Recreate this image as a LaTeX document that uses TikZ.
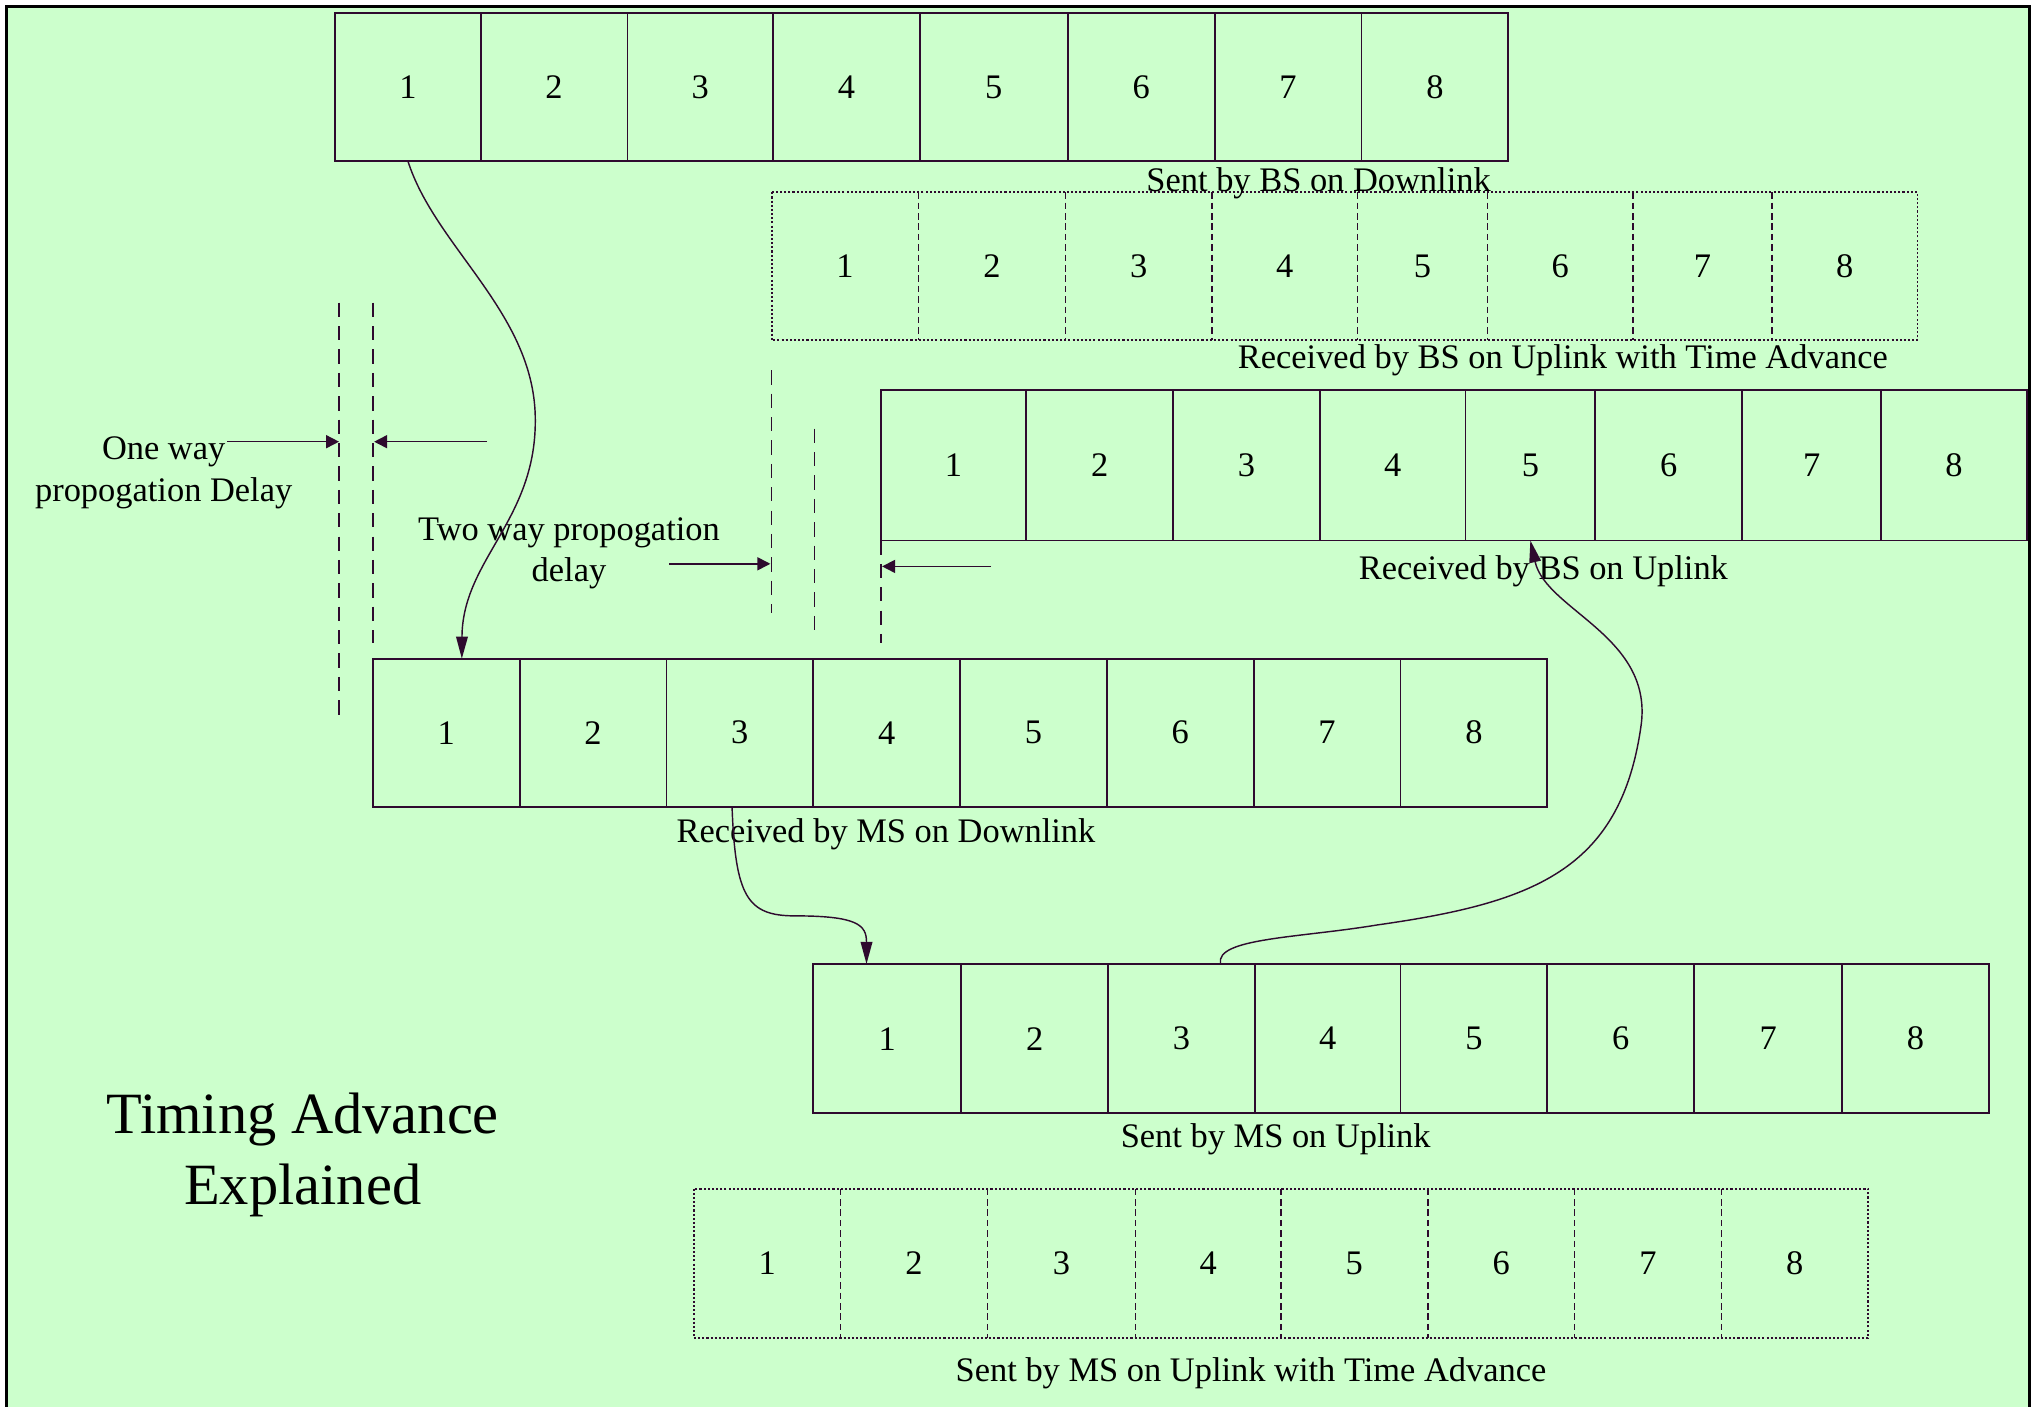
\documentclass[tikz,border=0pt]{standalone}
\usepackage{fontspec}
\setmainfont{Liberation Serif}
\usetikzlibrary{arrows.meta,calc}
\definecolor{bgreen}{HTML}{CCFFCC}
\definecolor{ink}{HTML}{2E0A2E}
\newcommand\slotrow[5]{%
  \foreach \l/\r [count=\i] in {#5} {%
    \pgfmathsetmacro\w{\r-\l}%
    \pgfmathsetmacro\h{#3-#2}%
    \node[#4, minimum width=\w pt, minimum height=\h pt] (#1\i) at ({(\l+\r)/2},{(#2+#3)/2}) {\i};
  }}
\newcommand\dottedframe[1]{%
  \draw[dotframe] (#11.north west) rectangle (#18.south east);
  \foreach \j in {1,...,7} {\draw[dotdiv] (#1\j.north east) -- (#1\j.south east);}%
}
\tikzset{
  cell/.style={draw=ink, line width=1.4pt, inner sep=0pt, outer sep=0pt, font=\fontsize{26.5}{30}\selectfont},
  dcell/.style={inner sep=0pt, outer sep=0pt, font=\fontsize{26.5}{30}\selectfont},
  dotframe/.style={draw=ink, line width=1.4pt, dash pattern=on 1.6pt off 1.6pt},
  dotdiv/.style={draw=ink, line width=1.2pt, dash pattern=on 5pt off 3pt},
  caption/.style={inner sep=0pt, font=\fontsize{26.5}{30}\selectfont},
  guide/.style={draw=ink, line width=1.2pt, dash pattern=on 11pt off 7pt},
  link/.style={draw=ink, line width=1.1pt, -{Triangle[length=17pt,width=9pt]}},
  dim/.style={draw=ink, line width=1.2pt, -{Triangle[length=10pt,width=10pt]}},
}
\begin{document}
\begin{tikzpicture}[x=1pt,y=-1pt]
\useasboundingbox (0,0) rectangle (1568,1083);
\fill[bgreen] (5,5) rectangle (1562,1090);
\draw[black, line width=2pt] (5,1090) -- (5,5) -- (1562,5) -- (1562,1090);

% rows of slots
\slotrow{A}{10}{124}{cell}{258/370,370/483,483/595,595/708,708/822,822/935,935/1048,1048/1161}
\slotrow{B}{148}{262}{dcell}{594/707,707/820,820/933,933/1045,1045/1145,1145/1257,1257/1364,1364/1476}
\dottedframe{B}
\slotrow{C}{300}{416}{cell}{678/790,790/903,903/1016,1016/1128,1128/1228,1228/1341,1341/1448,1448/1560}
\slotrow{D}{507}{621}{cell}{287/400,400/513,513/626,626/739,739/852,852/965,965/1078,1078/1191}
\slotrow{E}{742}{857}{cell}{626/740,740/853,853/966,966/1078,1078/1191,1191/1304,1304/1418,1418/1531}
\slotrow{F}{915}{1030}{dcell}{534/647,647/760,760/874,874/986,986/1099,1099/1212,1212/1325,1325/1438}
\dottedframe{F}

% captions
\node[caption] (capA) at (1015,141) {Sent by BS on Downlink};
\node[caption] (capB) at (1203,277) {Received by BS on Uplink with Time Advance};
\node[caption] (capC) at (1188,440) {Received by BS on Uplink};
\node[caption] (capD) at (682,642) {Received by MS on Downlink};
\node[caption] (capE) at (982,877) {Sent by MS on Uplink};
\node[caption] (capF) at (963,1057) {Sent by MS on Uplink with Time Advance};

\node[inner sep=0pt, align=center, font=\fontsize{45}{54}\selectfont] (title) at (233,889) {Timing Advance\\Explained};
\node[caption, align=center, font=\fontsize{26.5}{33}\selectfont] (oneway) at (126,364) {One way\\propogation Delay};
\node[caption, align=center, font=\fontsize{26.5}{31}\selectfont] (twoway) at (438,426) {Two way propogation\\delay};

% dashed guide lines
\draw[guide] (261,233) -- (261,550);
\draw[guide] (287,233) -- (287,495);
\draw[guide] (594,285) -- (594,472);
\draw[guide] (627,330) -- (627,487);
\draw[guide] (C1.south west) -- ++(0,79);

% dimension arrows
\coordinate (o1s) at (175,340); \coordinate (o1e) at (261,340);
\coordinate (o2s) at (375,340); \coordinate (o2e) at (288,340);
\coordinate (t1s) at (515,434); \coordinate (t1e) at (593,434);
\coordinate (t2s) at (763,436); \coordinate (t2e) at (679,436);
\draw[dim] (o1s) -- (o1e);
\draw[dim] (o2s) -- (o2e);
\draw[dim] (t1s) -- (t1e);
\draw[dim] (t2s) -- (t2e);

% propagation curves
\coordinate (m1) at (412,320);
\draw[link] (A1.south) .. controls (335,190) and (410,240) .. (m1)
  .. controls (414,400) and (356,430) .. ([xshift=12pt]D1.north);
\coordinate (m2) at (612,705);
\draw[link] ([xshift=-6pt]D3.south) .. controls (566,690) and (575,705) .. (m2)
  .. controls (660,705) and (667,712) .. ([xshift=-16pt]E1.north);
\coordinate (m3) at (1060,712);
\coordinate (m4) at (1263,560);
\draw[link] ([xshift=30pt]E3.north) .. controls (935,722) and (1000,722) .. (m3)
  .. controls (1180,695) and (1247,670) .. (m4)
  .. controls (1274,490) and (1190,470) .. (C5.south);
\end{tikzpicture}
\end{document}
